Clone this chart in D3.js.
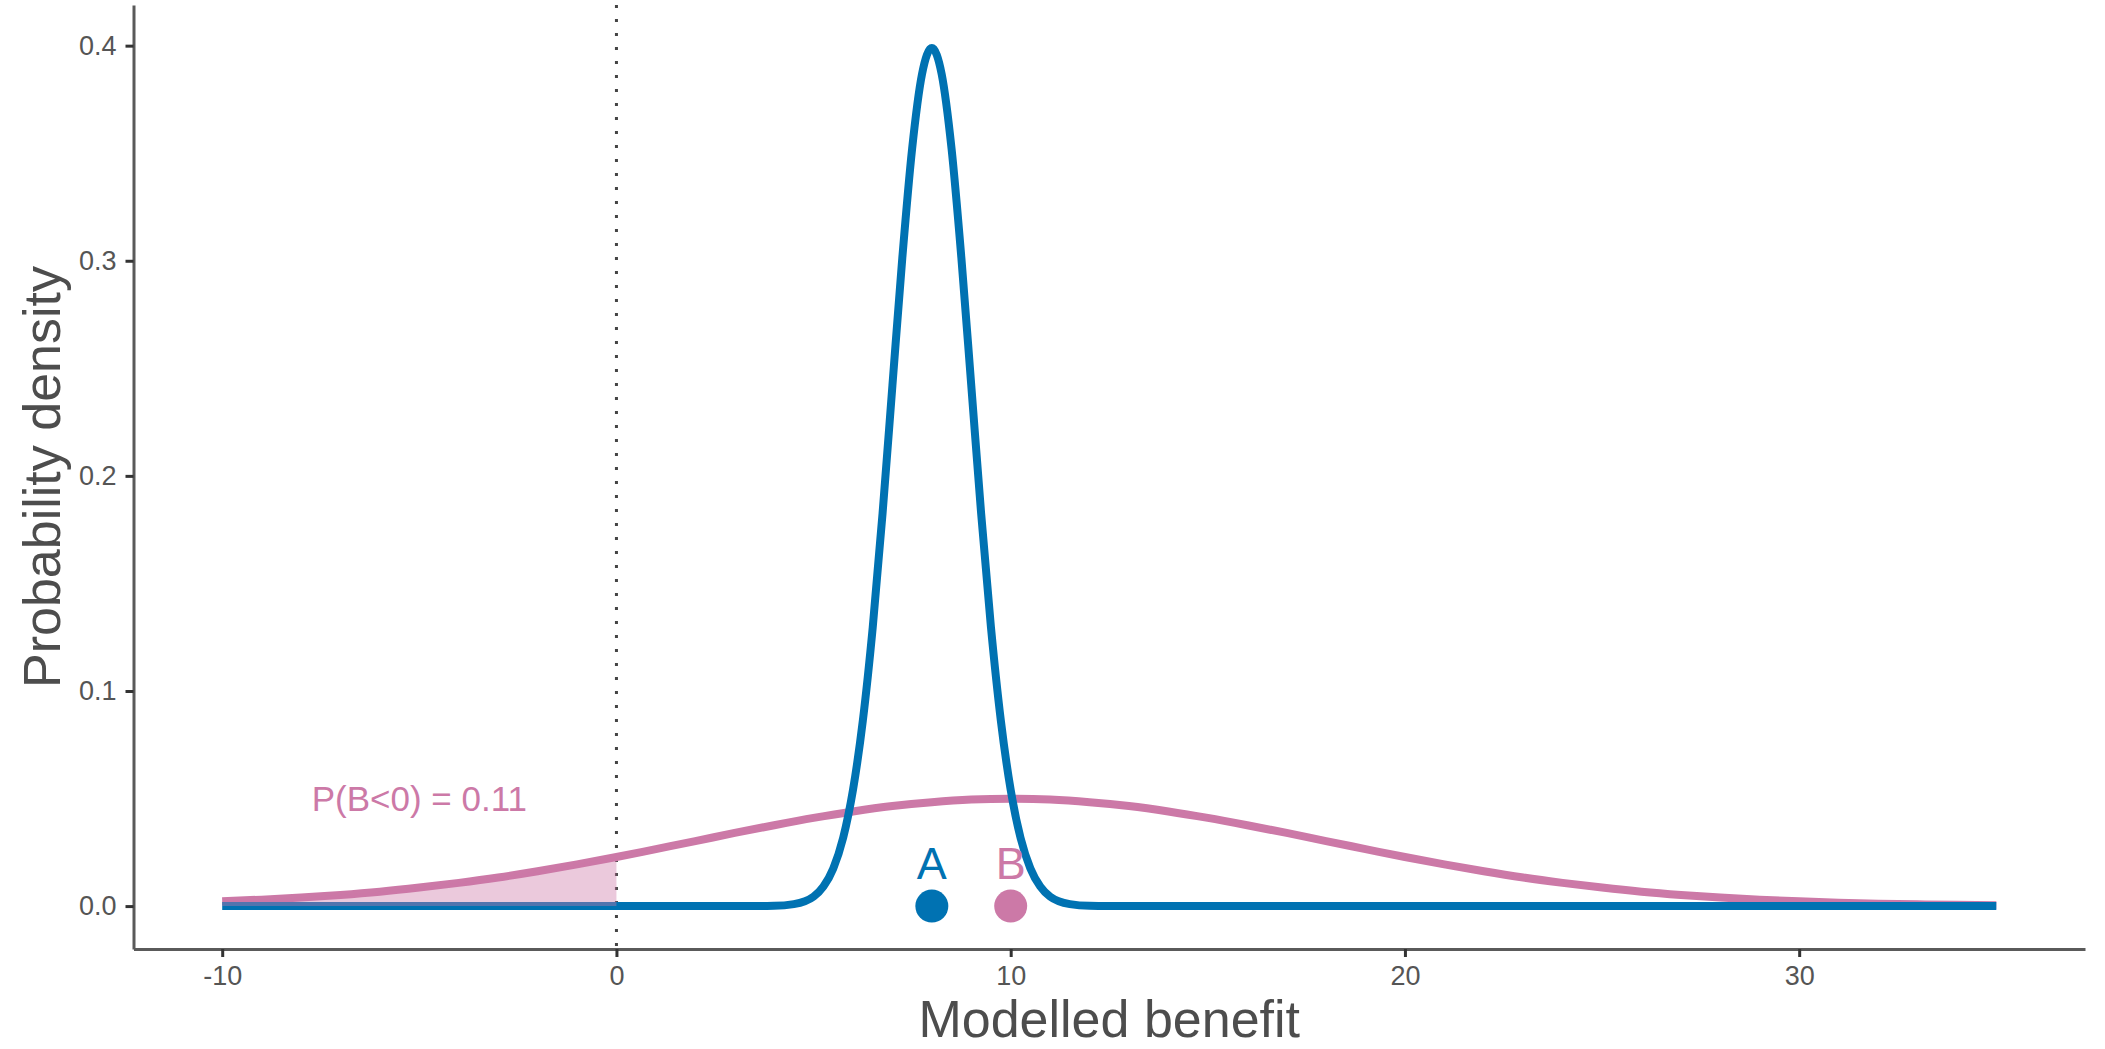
<!DOCTYPE html>
<html>
<head>
<meta charset="utf-8">
<script src="https://cdn.jsdelivr.net/npm/d3@7"></script>
<style>
  body { margin: 0; background: #fff; }
  svg { display: block; font-family: "Liberation Sans", Arial, Helvetica, sans-serif; }
</style>
</head>
<body>
<svg id="chart" width="2105" height="1049"></svg>
<script>
// ---- Data ----
// Option A density curve (narrow, centred on 8)
const xA = [-10, 3, 4, 4.5, 5, 5.25, 5.5, 5.75, 6, 6.25, 6.5, 6.75, 7, 7.25, 7.5, 7.75, 8,
            8.25, 8.5, 8.75, 9, 9.25, 9.5, 9.75, 10, 10.25, 10.5, 10.75, 11, 11.5, 12, 13, 35];
const densA = [0, 0, 0.0001, 0.0009, 0.0044, 0.0091, 0.0175, 0.0317, 0.0540, 0.0863, 0.1295, 0.1826, 0.2420, 0.3011, 0.3521, 0.3867, 0.3989,
               0.3867, 0.3521, 0.3011, 0.2420, 0.1826, 0.1295, 0.0863, 0.0540, 0.0317, 0.0175, 0.0091, 0.0044, 0.0009, 0.0001, 0, 0];
// Option B density curve (wide, centred on 10)
const xB = [-10, -9, -8, -7, -6, -5, -4, -3, -2, -1, 0, 1, 2, 3, 4, 5, 6, 7, 8, 9, 10,
            11, 12, 13, 14, 15, 16, 17, 18, 19, 20, 21, 22, 23, 24, 25, 26, 27, 28, 29, 30, 31, 32, 33, 34, 35];
const densB = [0.0022, 0.0030, 0.0040, 0.0052, 0.0067, 0.0086, 0.0108, 0.0133, 0.0162, 0.0194, 0.0228,
               0.0265, 0.0302, 0.0340, 0.0376, 0.0410, 0.0440, 0.0465, 0.0483, 0.0495, 0.0499,
               0.0495, 0.0483, 0.0465, 0.0440, 0.0410, 0.0376, 0.0340, 0.0302, 0.0265, 0.0228,
               0.0194, 0.0162, 0.0133, 0.0108, 0.0086, 0.0067, 0.0052, 0.0040, 0.0030, 0.0022,
               0.0016, 0.0011, 0.0008, 0.0006, 0.0004];
// Point estimates and labels
const optionNames = ["A", "B"];
const optionMeans = [8, 10];
const labelHeights = [0.02, 0.02];
const annotationText = ["P(B<0) = 0.11"];
const annotationPos = [[-5, 0.05]];
const xTicks = [-10, 0, 10, 20, 30];
const xTickLabels = ["-10", "0", "10", "20", "30"];
const yTicks = [0, 0.1, 0.2, 0.3, 0.4];
const yTickLabels = ["0.0", "0.1", "0.2", "0.3", "0.4"];
const xTitle = "Modelled benefit";
const yTitle = "Probability density";
const colours = ["#0072B2", "#CC79A7"];

// ---- Layout ----
const svg = d3.select("#chart");
const pLeft = 133.5, pRight = 2085, pTop = 5, pBottom = 949;
const x = d3.scaleLinear().domain([-12.25, 37.25]).range([pLeft, pRight]);
const y = d3.scaleLinear().domain([-0.01995, 0.4189]).range([pBottom, pTop]);

const ptsA = xA.map((v, i) => [v, densA[i]]);
const ptsB = xB.map((v, i) => [v, densB[i]]);

const line = d3.line().x(d => x(d[0])).y(d => y(d[1])).curve(d3.curveMonotoneX);
const area = d3.area().x(d => x(d[0])).y0(y(0)).y1(d => y(d[1])).curve(d3.curveMonotoneX);

// dotted zero line
svg.append("line")
  .attr("x1", x(0)).attr("x2", x(0)).attr("y1", pTop).attr("y2", pBottom)
  .attr("stroke", "#444").attr("stroke-width", 3)
  .attr("stroke-dasharray", "3 11");

// curves
svg.append("path").datum(ptsB).attr("d", line)
  .attr("fill", "none").attr("stroke", colours[1]).attr("stroke-width", 8)
  .attr("stroke-linejoin", "round");
svg.append("path").datum(ptsA).attr("d", line)
  .attr("fill", "none").attr("stroke", colours[0]).attr("stroke-width", 8)
  .attr("stroke-linejoin", "round");

// shaded tail of B below zero
svg.append("path").datum(ptsB.filter(d => d[0] <= 0)).attr("d", area)
  .attr("fill", colours[1]).attr("fill-opacity", 0.4);

// annotation
annotationText.forEach((t, i) => {
  svg.append("text")
    .attr("x", x(annotationPos[i][0])).attr("y", y(annotationPos[i][1]))
    .attr("dy", "0.35em")
    .attr("text-anchor", "middle")
    .attr("font-size", 35)
    .attr("fill", colours[1])
    .text(t);
});

// points and labels
optionNames.forEach((n, i) => {
  svg.append("circle")
    .attr("cx", x(optionMeans[i])).attr("cy", y(0)).attr("r", 16.5)
    .attr("fill", colours[i]);
  svg.append("text")
    .attr("x", x(optionMeans[i])).attr("y", y(labelHeights[i]))
    .attr("dy", "0.36em")
    .attr("text-anchor", "middle")
    .attr("font-size", 45)
    .attr("fill", colours[i])
    .text(n);
});

// axes
const xAxis = svg.append("g").attr("transform", `translate(0,${pBottom})`)
  .call(d3.axisBottom(x).tickValues(xTicks).tickFormat((d, i) => xTickLabels[i])
    .tickSize(8).tickSizeOuter(0).tickPadding(9));
const yAxis = svg.append("g").attr("transform", `translate(${pLeft},0)`)
  .call(d3.axisLeft(y).tickValues(yTicks).tickFormat((d, i) => yTickLabels[i])
    .tickSize(8).tickSizeOuter(0).tickPadding(9));

[xAxis, yAxis].forEach(g => {
  g.select(".domain").attr("stroke", "#5a5a5a").attr("stroke-width", 3);
  g.selectAll(".tick line").attr("stroke", "#333").attr("stroke-width", 3);
  g.selectAll(".tick text").attr("fill", "#555").attr("font-size", 27)
    .attr("font-family", "'Liberation Sans', Arial, sans-serif");
});

// axis titles
svg.append("text")
  .attr("x", (pLeft + pRight) / 2).attr("y", 1037)
  .attr("text-anchor", "middle").attr("font-size", 52).attr("fill", "#4D4D4D")
  .text(xTitle);
svg.append("text")
  .attr("transform", `translate(60,${(pTop + pBottom) / 2}) rotate(-90)`)
  .attr("text-anchor", "middle").attr("font-size", 52).attr("fill", "#4D4D4D")
  .text(yTitle);
</script>
</body>
</html>
